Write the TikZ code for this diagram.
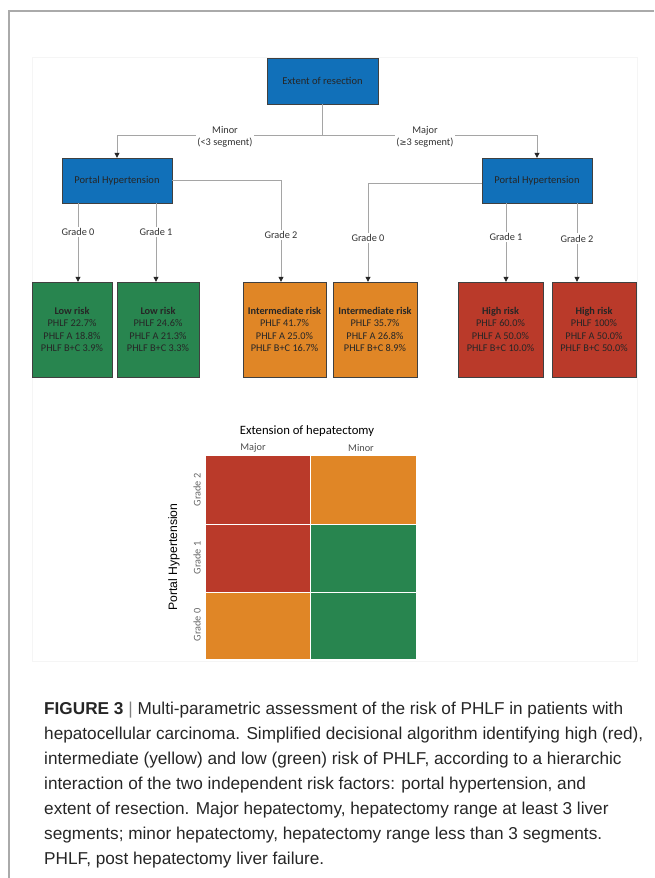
\documentclass[tikz,border=0pt]{standalone}
\usepackage{fontspec}
\setmainfont{Carlito}
\newfontfamily\capfont{Liberation Sans}
\newfontfamily\axisfont{Liberation Sans}
\newfontfamily\symfont{DejaVu Sans}
\usetikzlibrary{arrows.meta}

\definecolor{phblue}{RGB}{17,112,185}
\definecolor{riskred}{RGB}{186,58,42}
\definecolor{riskorange}{RGB}{224,134,38}
\definecolor{riskgreen}{RGB}{40,133,79}
\definecolor{linegray}{RGB}{165,165,165}
\definecolor{framegray}{RGB}{170,170,170}

\tikzset{
  decision/.style={draw=black!75, fill=phblue, minimum width=110pt, minimum height=45pt,
    inner sep=0pt, text=black!85, font=\fontsize{10.5}{12}\selectfont},
  riskbox/.style={draw=black!75, minimum height=95pt, inner sep=0pt, align=center,
    text=black!85, font=\fontsize{10.3}{12.2}\selectfont},
  link/.style={draw=linegray, line width=0.8pt},
  arrowlink/.style={link, -{Triangle[length=5pt,width=5pt,color=black!85]}},
  grade/.style={fill=white, inner sep=1.5pt, text=black!80, font=\fontsize{10.3}{12}\selectfont},
  branch/.style={fill=white, inner sep=1.5pt, align=center, text=black!80,
    font=\fontsize{10.3}{12}\selectfont},
  cellnote/.style={text=black!60, font=\fontsize{10.3}{12}\selectfont},
}

\begin{document}
\begin{tikzpicture}[x=1pt, y=-1pt]
  \useasboundingbox (0,0) rectangle (654,878);
  % page frame and faint panel
  \draw[framegray, line width=1.5pt] (654,11) -- (9,11) -- (9,878);
  \draw[black!4] (32,57) rectangle (637,661);

  % decision tree
  \node[decision, minimum width=111pt, minimum height=46pt] (extent) at (322.5,81) {Extent of resection};
  \node[decision] (phminor) at (117,180.5) {Portal Hypertension};
  \node[decision] (phmajor) at (537,180.5) {Portal Hypertension};
  \coordinate (split) at (322.5,135);

  \draw[link] (extent.south) -- (split);
  \draw[arrowlink] (split) -| (phminor.north);
  \draw[arrowlink] (split) -| (phmajor.north);
  \node[branch] (minorlbl) at (225,137) {Minor\\(<3 segment)};
  \node[branch] (majorlbl) at (425,137) {Major\\({\symfont\fontsize{8.5}{10}\selectfont ≥}3 segment)};

  % outcome boxes
  \node[riskbox, fill=riskgreen, minimum width=80pt] (low0) at (72,329.5)
    {\textbf{Low risk}\\PHLF 22.7\%\\PHLF A 18.8\%\\PHLF B+C 3.9\%};
  \node[riskbox, fill=riskgreen, minimum width=82pt] (low1) at (158,329.5)
    {\textbf{Low risk}\\PHLF 24.6\%\\PHLF A 21.3\%\\PHLF B+C 3.3\%};
  \node[riskbox, fill=riskorange, minimum width=83pt] (mid2) at (284.5,329.5)
    {\textbf{Intermediate risk}\\PHLF 41.7\%\\PHLF A 25.0\%\\PHLF B+C 16.7\%};
  \node[riskbox, fill=riskorange, minimum width=84pt] (mid0) at (375,329.5)
    {\textbf{Intermediate risk}\\PHLF 35.7\%\\PHLF A 26.8\%\\PHLF B+C 8.9\%};
  \node[riskbox, fill=riskred, minimum width=85pt] (high1) at (500.5,329.5)
    {\textbf{High risk}\\PHLF 60.0\%\\PHLF A 50.0\%\\PHLF B+C 10.0\%};
  \node[riskbox, fill=riskred, minimum width=84pt] (high2) at (594,329.5)
    {\textbf{High risk}\\PHLF 100\%\\PHLF A 50.0\%\\PHLF B+C 50.0\%};

  % minor branch
  \draw[arrowlink] ([xshift=-39pt]phminor.south) -- ([xshift=6pt]low0.north)
    node[grade, pos=.37] (g0minor) {Grade 0};
  \draw[arrowlink] ([xshift=39pt]phminor.south) -- ([xshift=-2pt]low1.north)
    node[grade, pos=.37] (g1minor) {Grade 1};
  \draw[arrowlink] (phminor.east) -| ([xshift=-3.5pt]mid2.north)
    node[grade, pos=.77] (g2minor) {Grade 2};
  % major branch
  \draw[arrowlink] ([yshift=-2.5pt]phmajor.west) -| ([xshift=-7pt]mid0.north)
    node[grade, pos=.78] (g0major) {Grade 0};
  \draw[arrowlink] ([xshift=-31pt]phmajor.south) -- ([xshift=5.5pt]high1.north)
    node[grade, pos=.43] (g1major) {Grade 1};
  \draw[arrowlink] ([xshift=40pt]phmajor.south) -- ([xshift=-17pt]high2.north)
    node[grade, pos=.45] (g2major) {Grade 2};

  % risk matrix
  \fill[riskred]    (206,456) rectangle (310,524);
  \fill[riskorange] (310,456) rectangle (416,524);
  \fill[riskred]    (206,524) rectangle (310,592);
  \fill[riskgreen]  (310,524) rectangle (416,592);
  \fill[riskorange] (206,592) rectangle (310,659);
  \fill[riskgreen]  (310,592) rectangle (416,659);
  \draw[white, line width=1pt] (310,456) -- (310,659)
    (206,524) -- (416,524) (206,592) -- (416,592);
  \node[font=\fontsize{12.7}{14}\selectfont] (mxtitle) at (307,431) {Extension of hepatectomy};
  \node[cellnote, text=black!70] (colmajor) at (253,448) {Major};
  \node[cellnote, text=black!70] (colminor) at (361,448) {Minor};
  \node[cellnote, rotate=90] (row2) at (197,490) {Grade 2};
  \node[cellnote, rotate=90] (row1) at (197,558) {Grade 1};
  \node[cellnote, rotate=90] (row0) at (197,625) {Grade 0};
  \node[rotate=90, font=\axisfont\fontsize{12.2}{14}\selectfont] (mxaxis) at (174,557) {Portal Hypertension};

  % caption
  \node[anchor=north west, align=left, inner sep=0pt, text=black!85,
    font=\capfont\fontsize{17.2}{25}\selectfont] (caption) at (44,702)
    {\textbf{FIGURE 3} {\color{black!50}|} Multi-parametric assessment of the risk of PHLF in patients with\\
     hepatocellular carcinoma. Simplified decisional algorithm identifying high (red),\\
     intermediate (yellow) and low (green) risk of PHLF, according to a hierarchic\\
     interaction of the two independent risk factors: portal hypertension, and\\
     extent of resection. Major hepatectomy, hepatectomy range at least 3 liver\\
     segments; minor hepatectomy, hepatectomy range less than 3 segments.\\
     PHLF, post hepatectomy liver failure.};
\end{tikzpicture}
\end{document}
